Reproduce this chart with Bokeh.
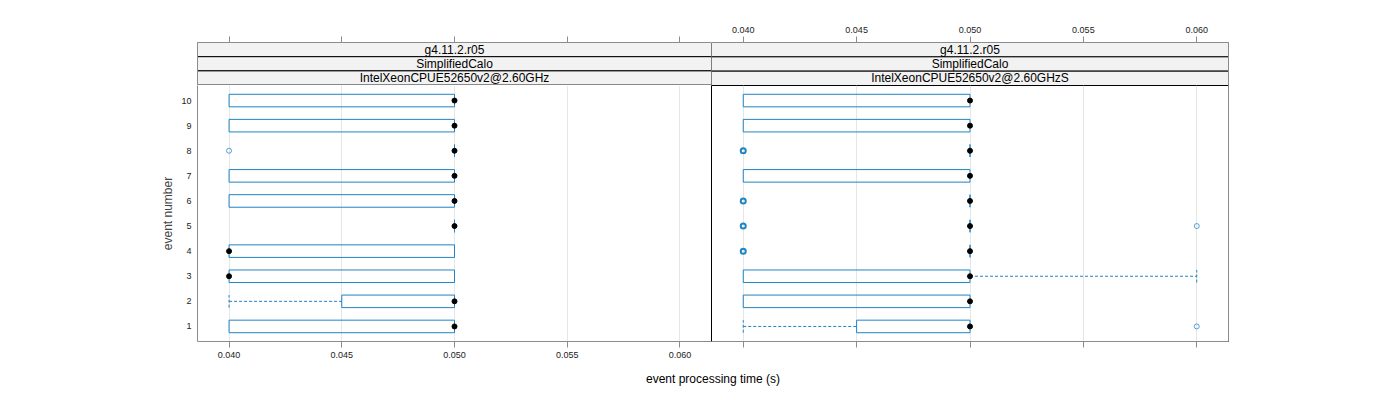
from collections import Counter
from bokeh.plotting import figure
from bokeh.models import FixedTicker, LinearAxis, Range1d, Label, Grid
from bokeh.layouts import column, row
from bokeh.embed import file_html
from bokeh.resources import INLINE
from bokeh.core.properties import value

# ---------------- data ----------------
events = [1, 2, 3, 4, 5, 6, 7, 8, 9, 10]
x_ticks = [0.040, 0.045, 0.050, 0.055, 0.060]
x_tick_labels = ["0.040", "0.045", "0.050", "0.055", "0.060"]
y_tick_labels = [str(e) for e in events]

strip_left = ["g4.11.2.r05", "SimplifiedCalo", "IntelXeonCPUE52650v2@2.60GHz"]
strip_right = ["g4.11.2.r05", "SimplifiedCalo", "IntelXeonCPUE52650v2@2.60GHzS"]

# left panel (IntelXeonCPUE52650v2@2.60GHz)
left_lower_hinge = [0.040, 0.045, 0.040, 0.040, 0.050, 0.040, 0.040, 0.050, 0.040, 0.040]
left_median = [0.050, 0.050, 0.040, 0.040, 0.050, 0.050, 0.050, 0.050, 0.050, 0.050]
left_upper_hinge = [0.050, 0.050, 0.050, 0.050, 0.050, 0.050, 0.050, 0.050, 0.050, 0.050]
left_whisker_lo = [0.040, 0.040, 0.040, 0.040, 0.050, 0.040, 0.040, 0.050, 0.040, 0.040]
left_whisker_hi = [0.050, 0.050, 0.050, 0.050, 0.050, 0.050, 0.050, 0.050, 0.050, 0.050]
left_out_event = [8]
left_out_value = [0.040]

# right panel (IntelXeonCPUE52650v2@2.60GHzS)
right_lower_hinge = [0.045, 0.040, 0.040, 0.050, 0.050, 0.050, 0.040, 0.050, 0.040, 0.040]
right_median = [0.050, 0.050, 0.050, 0.050, 0.050, 0.050, 0.050, 0.050, 0.050, 0.050]
right_upper_hinge = [0.050, 0.050, 0.050, 0.050, 0.050, 0.050, 0.050, 0.050, 0.050, 0.050]
right_whisker_lo = [0.040, 0.040, 0.040, 0.050, 0.050, 0.050, 0.040, 0.050, 0.040, 0.040]
right_whisker_hi = [0.050, 0.050, 0.060, 0.050, 0.050, 0.050, 0.050, 0.050, 0.050, 0.050]
right_out_event = [1, 4, 4, 4, 5, 5, 5, 5, 6, 6, 6, 8, 8, 8]
right_out_value = [0.060, 0.040, 0.040, 0.040, 0.040, 0.040, 0.040, 0.060,
                   0.040, 0.040, 0.040, 0.040, 0.040, 0.040]

# ---------------- style ----------------
FONT = "Liberation Sans"
BLUE = "#1f84c4"
GRAY = "#8c8c8c"
STRIP_FILL = "#f2f2f2"
X_MIN, X_MAX = 0.0386, 0.0614
Y_MIN, Y_MAX = 0.4, 10.6
BOX_H = 0.5

LEFT_W, RIGHT_W = 711, 689
BORDER_L, BORDER_R = 197, 172
STRIP_H, TOP_B = 43, 42
PANEL_H, BOT_B = 256, 25
LABEL_H = 400 - (STRIP_H + TOP_B) - (PANEL_H + BOT_B)

xr = Range1d(X_MIN, X_MAX)
overrides_empty = {t: "" for t in x_ticks}
overrides_lab = {t: l for t, l in zip(x_ticks, x_tick_labels)}


def style_axis(ax, ticks=True):
    ax.axis_line_color = GRAY
    ax.axis_line_width = 1
    ax.major_tick_line_color = GRAY if ticks else None
    ax.minor_tick_line_color = None
    ax.major_tick_in = 0
    ax.major_tick_out = 6 if ticks else 0
    ax.major_label_text_font = FONT
    ax.major_label_text_font_size = "9px"
    ax.major_label_text_color = "#222222"


def strip_fig(labels, left_border, right_border, width, show_labels, y_lo):
    p = figure(width=width, height=STRIP_H + TOP_B, x_range=xr, y_range=Range1d(y_lo, 3),
               output_backend="svg", toolbar_location=None,
               x_axis_type=None, y_axis_type=None,
               min_border_left=left_border, min_border_right=right_border,
               min_border_top=TOP_B, min_border_bottom=0)
    p.outline_line_color = None
    p.grid.visible = False
    top = LinearAxis(ticker=FixedTicker(ticks=x_ticks),
                     major_label_overrides=overrides_lab if show_labels else overrides_empty)
    style_axis(top)
    top.major_label_standoff = 4
    p.add_layout(top, "above")
    side = LinearAxis(ticker=FixedTicker(ticks=[]))
    style_axis(side, ticks=False)
    p.add_layout(side, "left" if left_border > 0 else "right")
    xm = (X_MIN + X_MAX) / 2
    ys = [2.5, 1.5, 0.5]
    p.rect(x=[xm] * 3, y=ys, width=X_MAX - X_MIN, height=1,
           fill_color=STRIP_FILL, line_color="#000000", line_width=1)
    p.text(x=[xm] * 3, y=ys, text=labels, text_align="center", text_baseline="middle",
           text_font=value(FONT), text_font_size="12px", text_color="#000000")
    return p


def panel_fig(lo, med, hi, wlo, whi, oe, ov, left_border, right_border, width, first):
    p = figure(width=width, height=PANEL_H + BOT_B, x_range=xr,
               y_range=Range1d(Y_MIN, Y_MAX),
               output_backend="svg", toolbar_location=None,
               x_axis_type=None, y_axis_type=None,
               min_border_left=left_border, min_border_right=right_border,
               min_border_top=0, min_border_bottom=BOT_B)
    p.outline_line_color = None if first else "#000000"
    p.add_layout(Grid(dimension=0, ticker=FixedTicker(ticks=x_ticks),
                      grid_line_color="#e6e6e6", grid_line_width=1))
    bottom = LinearAxis(ticker=FixedTicker(ticks=x_ticks),
                        major_label_overrides=overrides_lab if first else overrides_empty)
    style_axis(bottom)
    bottom.major_label_standoff = 4
    p.add_layout(bottom, "below")
    if first:
        yax = LinearAxis(ticker=FixedTicker(ticks=events),
                         major_label_overrides={e: l for e, l in zip(events, y_tick_labels)},
                         axis_label="event number")
        style_axis(yax)
        yax.major_tick_out = 0
        yax.major_label_standoff = 6
        yax.axis_label_text_font = FONT
        yax.axis_label_text_font_size = "12px"
        yax.axis_label_text_font_style = "normal"
        yax.axis_label_standoff = 3
        p.add_layout(yax, "left")
    else:
        rax = LinearAxis(ticker=FixedTicker(ticks=[]))
        style_axis(rax, ticks=False)
        p.add_layout(rax, "right")

    # whiskers
    for e, l, w in zip(events, lo, wlo):
        if w < l:
            p.segment(x0=[w], y0=[e], x1=[l], y1=[e], line_color=BLUE, line_dash="3 2", line_width=1)
            p.segment(x0=[w], y0=[e - BOX_H / 2], x1=[w], y1=[e + BOX_H / 2],
                      line_color=BLUE, line_dash="3 2", line_width=1)
    for e, h, w in zip(events, hi, whi):
        if w > h:
            p.segment(x0=[h], y0=[e], x1=[w], y1=[e], line_color=BLUE, line_dash="3 2", line_width=1)
            p.segment(x0=[w], y0=[e - BOX_H / 2], x1=[w], y1=[e + BOX_H / 2],
                      line_color=BLUE, line_dash="3 2", line_width=1)
    # boxes
    p.quad(left=lo, right=hi, bottom=[e - BOX_H / 2 for e in events],
           top=[e + BOX_H / 2 for e in events], fill_color=None,
           line_color=BLUE, line_width=1)
    # outliers (overlapping repeats drawn heavier)
    cnt = Counter(zip(oe, ov))
    keys = list(cnt.keys())
    p.scatter(x=[k[1] for k in keys], y=[k[0] for k in keys], marker="circle", size=5,
              fill_color=None, line_color=BLUE,
              line_width=[1.0 if cnt[k] == 1 else 2.0 for k in keys],
              line_alpha=[0.75 if cnt[k] == 1 else 1.0 for k in keys])
    # medians
    p.scatter(x=med, y=events, marker="circle", size=5, fill_color="#000000",
              line_color="#000000")
    return p


s_left = strip_fig(strip_left, BORDER_L, 0, LEFT_W, False, -0.03)
s_right = strip_fig(strip_right, 0, BORDER_R, RIGHT_W, True, 0)
p_left = panel_fig(left_lower_hinge, left_median, left_upper_hinge, left_whisker_lo,
                   left_whisker_hi, left_out_event, left_out_value, BORDER_L, 0, LEFT_W, True)
p_right = panel_fig(right_lower_hinge, right_median, right_upper_hinge, right_whisker_lo,
                    right_whisker_hi, right_out_event, right_out_value, 0, BORDER_R, RIGHT_W, False)

lab = figure(width=1400, height=LABEL_H, x_range=Range1d(0, 1400), y_range=Range1d(0, LABEL_H),
             output_backend="svg", toolbar_location=None, x_axis_type=None, y_axis_type=None,
             min_border=0)
lab.outline_line_color = None
lab.grid.visible = False
lab.add_layout(Label(x=(BORDER_L + 1400 - BORDER_R) / 2, y=LABEL_H - 12,
                     text="event processing time (s)", text_align="center",
                     text_baseline="middle", text_font=FONT, text_font_size="12px",
                     text_color="#000000"))

layout = column(row(s_left, s_right, spacing=0), row(p_left, p_right, spacing=0), lab, spacing=0)
open("out.html", "w").write(file_html(layout, INLINE))
